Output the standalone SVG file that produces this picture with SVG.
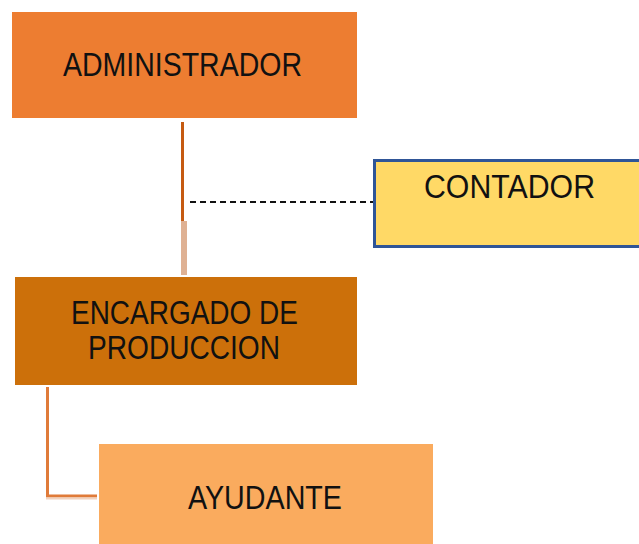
<svg xmlns="http://www.w3.org/2000/svg" width="639" height="544" viewBox="0 0 639 544">
<style>
text{font-family:"Liberation Sans",Arial,sans-serif;font-size:33px;fill:#111}
</style>
<rect width="639" height="544" fill="#fff"/>
<g id="connectors">
<line x1="182.5" y1="122" x2="182.5" y2="223" stroke="#C55A11" stroke-width="3"/>
<line x1="184" y1="221" x2="184" y2="275" stroke="#DFB193" stroke-width="6"/>
<line x1="190" y1="202" x2="373" y2="202" stroke="#111" stroke-width="2" stroke-dasharray="6,4"/>
<polyline points="47.5,387 47.5,496 97,496" fill="none" stroke="#E07B39" stroke-width="3"/>
<line x1="46" y1="498.5" x2="97" y2="498.5" stroke="#F2D2BD" stroke-width="2"/>
</g>
<g id="administrador">
<rect x="12" y="12" width="345" height="106" fill="#ED7D31"/>
<text x="63" y="76" textLength="239" lengthAdjust="spacingAndGlyphs">ADMINISTRADOR</text>
</g>
<g id="contador">
<rect x="374.5" y="160.5" width="270" height="86" fill="#FFD966" stroke="#2F5597" stroke-width="3"/>
<text x="424" y="198" textLength="171" lengthAdjust="spacingAndGlyphs">CONTADOR</text>
</g>
<g id="encargado">
<rect x="15" y="277" width="342" height="108" fill="#CC700A"/>
<text x="71" y="324" textLength="227" lengthAdjust="spacingAndGlyphs">ENCARGADO DE</text>
<text x="88" y="359" textLength="192" lengthAdjust="spacingAndGlyphs">PRODUCCION</text>
</g>
<g id="ayudante">
<rect x="99" y="444" width="334" height="100" fill="#FAAB5E"/>
<text x="188" y="509" textLength="154" lengthAdjust="spacingAndGlyphs">AYUDANTE</text>
</g>
</svg>
